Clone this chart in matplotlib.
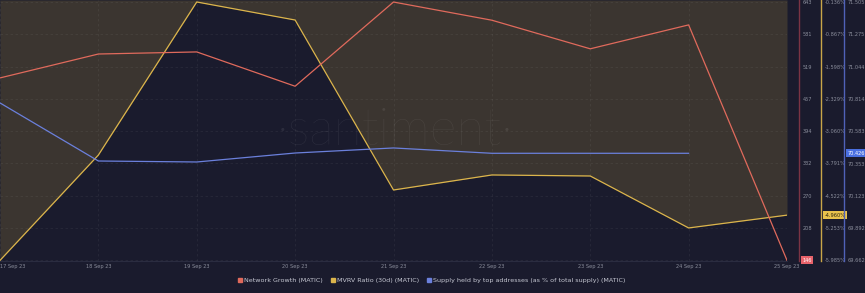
import matplotlib
matplotlib.use("Agg")
import matplotlib.pyplot as plt
from matplotlib.lines import Line2D

dates = ["17 Sep 23", "18 Sep 23", "19 Sep 23", "20 Sep 23", "21 Sep 23",
         "22 Sep 23", "23 Sep 23", "24 Sep 23", "25 Sep 23"]
network_growth = [497, 543, 547, 481, 643, 608, 553, 599, 146]
mvrv = [-5.984, -3.60, -0.136, -0.544, -4.391, -4.051, -4.074, -5.250, -4.960]
supply_top = [70.785, 70.371, 70.364, 70.428, 70.464, 70.426, 70.426, 70.426]

red_ticks = [146, 208.1, 270.25, 332.4, 394.5, 456.6, 518.75, 580.9, 643]
red_labels = ["146", "208", "270", "332", "394", "457", "519", "581", "643"]
mvrv_ticks = [-5.984, -5.253, -4.522, -3.791, -3.060, -2.329, -1.598, -0.867, -0.136]
mvrv_labels = ["-5.985%", "-5.253%", "-4.522%", "-3.791%", "-3.060%", "-2.329%",
               "-1.598%", "-0.867%", "-0.136%"]
blue_ticks = [69.662, 69.892, 70.123, 70.353, 70.583, 70.814, 71.044, 71.275, 71.505]
blue_labels = ["69.662", "69.892", "70.123", "70.353", "70.583", "70.814",
               "71.044", "71.275", "71.505"]

BG = "#1a1b2d"
BROWN = "#3b3530"
RED = "#e06a5c"
YEL = "#dcb54c"
BLUE = "#6b80dc"
TXT = "#8b8e9c"

W, H = 865, 293
fig = plt.figure(figsize=(W / 100, H / 100), dpi=100, facecolor=BG)
left, right_px, top_px, bot_px = 0, 787, 0, 261
ax_y = fig.add_axes([left / W, 1 - bot_px / H, (right_px - left) / W, (bot_px - top_px) / H])
ax_y.set_facecolor(BG)
ax_r = ax_y.twinx()
ax_b = ax_y.twinx()
for a in (ax_r, ax_b):
    a.set_facecolor("none")

x = list(range(len(dates)))
xb = list(range(len(supply_top)))

# MVRV host axis with fill above line
ax_y.set_ylim(-5.998, -0.091)
ax_y.fill_between(x, mvrv, -0.091, color=BROWN, zorder=1, linewidth=0)
ax_y.plot(x, mvrv, color=YEL, lw=0.9, zorder=3)
ax_y.set_xlim(0, 8)
ax_y.set_xticks(x)
ax_y.set_xticklabels(dates)
ax_y.get_xticklabels()[0].set_horizontalalignment("left")
ax_y.grid(True, color="#ffffff", alpha=0.06, lw=0.6, ls=(0, (3, 3)))
ax_y.set_yticks(mvrv_ticks)
ax_y.set_yticklabels(mvrv_labels)
ax_y.yaxis.tick_right()
ax_y.tick_params(axis="x", length=0, pad=2, labelsize=3.6, labelcolor=TXT)

ax_r.set_ylim(144.8, 646.9)
ax_r.plot(x, network_growth, color=RED, lw=0.9, zorder=3)
ax_r.set_yticks(red_ticks)
ax_r.set_yticklabels([""] + red_labels[1:])

ax_b.set_ylim(69.658, 71.519)
ax_b.plot(xb, supply_top, color=BLUE, lw=0.9, zorder=3)
ax_b.set_yticks(blue_ticks)
ax_b.set_yticklabels(blue_labels)

spine_pos = {ax_r: (799, "#7b3444"), ax_y: (821, "#c9a648"), ax_b: (844, "#5062b8")}
for a in (ax_y, ax_r, ax_b):
    for s in ("left", "top"):
        a.spines[s].set_visible(False)
    a.spines["bottom"].set_visible(a is ax_y)
    a.spines["bottom"].set_color("#2a2c40")
    px, col = spine_pos[a]
    a.spines["right"].set_position(("axes", (px - left) / (right_px - left)))
    a.spines["right"].set_color(col)
    a.spines["right"].set_linewidth(1.0)
    a.tick_params(axis="y", length=0, pad=2.5, labelsize=3.6, labelcolor=TXT)

# value boxes at last points
def box(a, val, label, fc, tc, px):
    a.annotate(label, xy=((px - left) / (right_px - left), val),
               xycoords=("axes fraction", "data"), xytext=(2.5, 0),
               textcoords="offset points", ha="left", va="center",
               fontsize=3.6, color=tc, annotation_clip=False,
               bbox=dict(boxstyle="square,pad=0.3", fc=fc, ec="none"))

box(ax_r, network_growth[-1], str(network_growth[-1]), "#e8626a", "#ffffff", 799)
box(ax_y, mvrv[-1], "-4.960%", "#e8c24c", "#2a2410", 821)
box(ax_b, supply_top[-1], "70.426", "#4a6fe0", "#ffffff", 844)

# watermark
ax_y.text(0.502, 0.50, "·santiment·", transform=ax_y.transAxes, ha="center",
          va="center", fontsize=37, color="#ffffff", alpha=0.08,
          family="Lato", fontweight="light", zorder=2)

handles = [Line2D([], [], ls="none", marker="s", markersize=3.4, color=c)
           for c in (RED, YEL, BLUE)]
labels = ["Network Growth (MATIC)", "MVRV Ratio (30d) (MATIC)",
          "Supply held by top addresses (as % of total supply) (MATIC)"]
leg = fig.legend(handles, labels, loc="center", bbox_to_anchor=(0.499, 1 - 280 / H),
                 ncol=3, frameon=False, fontsize=4.6, handletextpad=0.2,
                 columnspacing=1.2, handlelength=0.8, labelcolor="#c5c7d2")

fig.savefig("out.png", dpi=100, facecolor=BG)
